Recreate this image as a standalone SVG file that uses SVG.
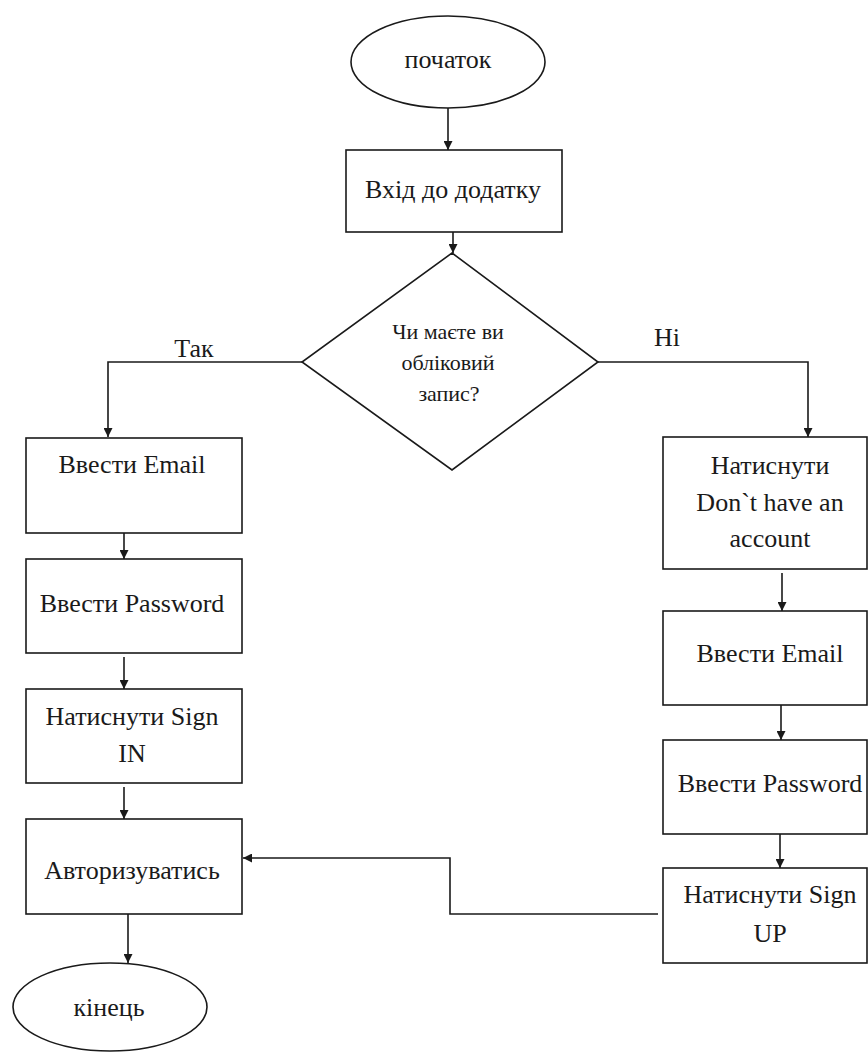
<svg xmlns="http://www.w3.org/2000/svg" width="868" height="1052" viewBox="0 0 868 1052">
<style>
.s{fill:#fff;stroke:#1a1a1a;stroke-width:1.6}
.c{fill:none;stroke:#1a1a1a;stroke-width:1.6}
text{font-family:'Liberation Serif','DejaVu Serif','Times New Roman',serif;font-size:26px;fill:#1a1a1a;text-anchor:middle}
.d{font-size:22px}
</style>
<defs>
<marker id="a" markerWidth="9" markerHeight="9" refX="9" refY="4.5" orient="auto" markerUnits="userSpaceOnUse">
<path d="M0,0 L9,4.5 L0,9 Z" fill="#1a1a1a"/>
</marker>
</defs>
<rect width="868" height="1052" fill="#fff"/>
<g id="connectors">
<path class="c" d="M448,108 V150" marker-end="url(#a)"/>
<path class="c" d="M453,232 V253" marker-end="url(#a)"/>
<path class="c" d="M302,362 H108 V437" marker-end="url(#a)"/>
<path class="c" d="M598,362 H808 V437" marker-end="url(#a)"/>
<path class="c" d="M124,533 V559" marker-end="url(#a)"/>
<path class="c" d="M124,657 V689" marker-end="url(#a)"/>
<path class="c" d="M124,787 V819" marker-end="url(#a)"/>
<path class="c" d="M128,914 V963" marker-end="url(#a)"/>
<path class="c" d="M782,573 V611" marker-end="url(#a)"/>
<path class="c" d="M781,705 V740" marker-end="url(#a)"/>
<path class="c" d="M780,834 V868" marker-end="url(#a)"/>
<path class="c" d="M658,914 H450 V858 H243" marker-end="url(#a)"/>
<text x="194" y="357">Так</text>
<text x="667" y="346">Ні</text>
</g>
<g id="start">
<ellipse class="s" cx="448" cy="62" rx="97" ry="46"/>
<text x="448" y="68">початок</text>
</g>
<g id="enter-app">
<rect class="s" x="346" y="150" width="216" height="82"/>
<text x="453" y="198">Вхід до додатку</text>
</g>
<g id="decision">
<polygon class="s" points="452,253 598,362 452,470 302,362"/>
<text class="d" x="448" y="339">Чи маєте ви</text>
<text class="d" x="448" y="370">обліковий</text>
<text class="d" x="449" y="401">запис?</text>
</g>
<g id="left-email">
<rect class="s" x="26" y="438" width="216" height="95"/>
<text x="132" y="473">Ввести Email</text>
</g>
<g id="left-password">
<rect class="s" x="26" y="559" width="216" height="94"/>
<text x="132" y="612">Ввести Password</text>
</g>
<g id="sign-in">
<rect class="s" x="26" y="689" width="216" height="94"/>
<text x="132" y="725">Натиснути Sign</text>
<text x="132" y="762">IN</text>
</g>
<g id="authorize">
<rect class="s" x="26" y="819" width="216" height="95"/>
<text x="132" y="879">Авторизуватись</text>
</g>
<g id="end">
<ellipse class="s" cx="110" cy="1007" rx="97" ry="44"/>
<text x="109" y="1016">кінець</text>
</g>
<g id="no-account">
<rect class="s" x="663" y="437" width="204" height="132"/>
<text x="770" y="474">Натиснути</text>
<text x="770" y="511">Don`t have an</text>
<text x="770" y="547">account</text>
</g>
<g id="right-email">
<rect class="s" x="663" y="611" width="204" height="94"/>
<text x="770" y="662">Ввести Email</text>
</g>
<g id="right-password">
<rect class="s" x="663" y="740" width="204" height="94"/>
<text x="770" y="792">Ввести Password</text>
</g>
<g id="sign-up">
<rect class="s" x="663" y="868" width="204" height="95"/>
<text x="770" y="903">Натиснути Sign</text>
<text x="770" y="942">UP</text>
</g>
</svg>
